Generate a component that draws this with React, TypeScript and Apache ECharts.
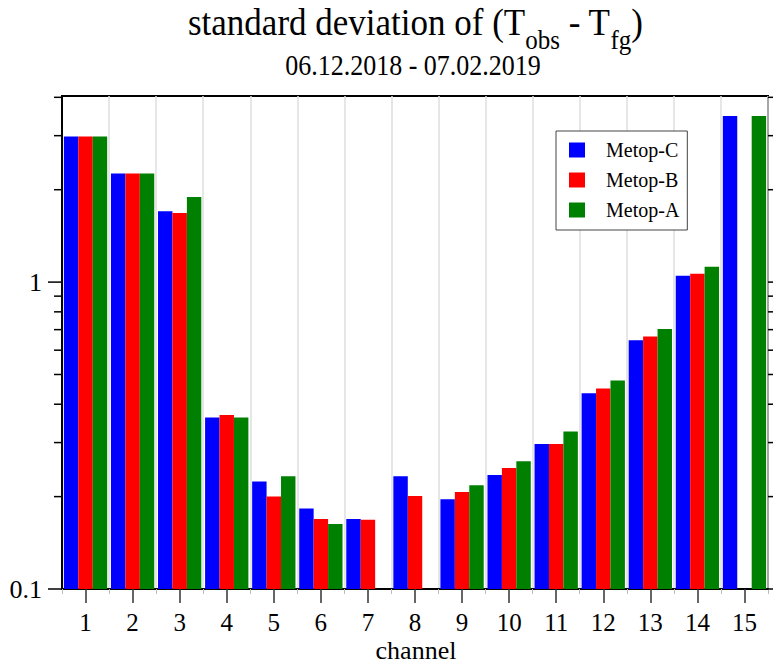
import React, { useEffect, useRef } from "react";
import * as echarts from "echarts";

const categories = ["1", "2", "3", "4", "5", "6", "7", "8", "9", "10", "11", "12", "13", "14", "15"];
const seriesNames = ["Metop-C", "Metop-B", "Metop-A"];
const metopC = [2.98, 2.26, 1.70, 0.362, 0.224, 0.183, 0.169, 0.233, 0.196, 0.235, 0.297, 0.434, 0.646, 1.049, 3.475];
const metopB = [2.98, 2.26, 1.68, 0.369, 0.200, 0.169, 0.168, 0.201, 0.207, 0.248, 0.297, 0.450, 0.665, 1.065, null];
const metopA = [2.98, 2.26, 1.895, 0.362, 0.233, 0.163, null, null, 0.218, 0.261, 0.326, 0.478, 0.704, 1.122, 3.475];
const seriesColors = ["#0000ff", "#ff0000", "#008000"];
const yMin = 0.1;
const yMax = 4.04;
const yMajorTicks = [0.1, 1];
const yMinorTicks = [0.2, 0.3, 0.4, 0.5, 0.6, 0.7, 0.8, 0.9, 2, 3, 4];
const titleMain = "standard deviation of (T";
const titleSub1 = "obs";
const titleMid = " - T";
const titleSub2 = "fg";
const titleEnd = ")";
const subtitle = "06.12.2018 - 07.02.2019";
const xName = "channel";

const FONT = "Liberation Serif, Times New Roman, serif";

function measure(text: string, font: string): number {
  const c = document.createElement("canvas").getContext("2d");
  if (!c) return text.length * 10;
  c.font = font;
  return c.measureText(text).width;
}

export default function App() {
  const ref = useRef<HTMLDivElement>(null);
  useEffect(() => {
    if (!ref.current) return;
    const chart = echarts.init(ref.current, undefined, { renderer: "svg" });

    const F = 35;
    const f = 25;
    const mainFont = `${F}px "Liberation Serif"`;
    const subFont = `${f}px "Liberation Serif"`;
    const pieces = [
      { t: titleMain, sub: false },
      { t: titleSub1, sub: true },
      { t: titleMid, sub: false },
      { t: titleSub2, sub: true },
      { t: titleEnd, sub: false },
    ];
    const widths = pieces.map((p) => measure(p.t, p.sub ? subFont : mainFont));
    const total = widths.reduce((a, b) => a + b, 0);
    let cx = 415.5 - total / 2;
    const mainBase = 35;
    const subBase = 49;
    const stretch = 1.1;
    const titleEls: any[] = pieces.map((p, i) => {
      const size = p.sub ? f : F;
      const base = p.sub ? subBase : mainBase;
      const el = {
        type: "text",
        x: cx,
        y: base - 0.34 * size,
        scaleY: stretch,
        originY: 0.34 * size,
        style: {
          text: p.t,
          font: `${size}px ${FONT}`,
          fill: "#000",
          textAlign: "left",
          verticalAlign: "middle",
        },
      };
      cx += widths[i];
      return el;
    });
    titleEls.push({
      type: "text",
      x: 413,
      y: 75 - 0.34 * 26,
      scaleY: stretch,
      originY: 0.34 * 26,
      style: {
        text: subtitle,
        font: `26px ${FONT}`,
        fill: "#000",
        textAlign: "center",
        verticalAlign: "middle",
      },
    });
    titleEls.push({
      type: "text",
      x: 416,
      y: 650,
      style: {
        text: xName,
        font: `26px ${FONT}`,
        fill: "#000",
        textAlign: "center",
        verticalAlign: "middle",
      },
    });

    const allTicks = [...yMajorTicks, ...yMinorTicks];
    const barData = [metopC, metopB, metopA];

    const option: any = {
      animation: false,
      backgroundColor: "#fff",
      textStyle: { fontFamily: FONT },
      graphic: titleEls,
      grid: {
        left: 62,
        right: 5,
        top: 96,
        bottom: 74,
        containLabel: false,
        outerBoundsMode: "none",
        show: true,
        borderColor: "#000",
        borderWidth: 2,
        backgroundColor: "transparent",
      },
      legend: {
        data: seriesNames,
        orient: "vertical",
        left: 556,
        top: 131,
        itemWidth: 16,
        itemHeight: 15,
        itemGap: 10,
        icon: "rect",
        padding: [9, 8, 10, 13],
        borderColor: "#444",
        borderWidth: 1,
        backgroundColor: "#fff",
        borderRadius: 0,
        textStyle: { fontSize: 20, fontFamily: FONT, color: "#000", padding: [0, 0, 0, 16] },
      },
      xAxis: [
        {
          type: "category",
          data: categories,
          axisLine: { show: true, lineStyle: { color: "#000", width: 2 } },
          axisTick: { show: true, alignWithLabel: true, length: 14, lineStyle: { color: "#333", width: 1.5 } },
          axisLabel: { fontSize: 25, fontFamily: FONT, color: "#000", margin: 21 },
          splitLine: { show: true, lineStyle: { color: "#dedede", width: 1.5 } },
        },
        {
          type: "category",
          data: categories,
          position: "bottom",
          axisLine: { show: false },
          axisTick: { show: true, length: 5, lineStyle: { color: "#bbb", width: 1 } },
          axisLabel: { show: false },
          splitLine: { show: false },
        },
      ],
      yAxis: {
        type: "log",
        logBase: 10,
        min: yMin,
        max: yMax,
        startValue: yMin,
        axisLine: { show: true, lineStyle: { color: "#000", width: 2 } },
        axisTick: { show: false },
        splitLine: { show: false },
        minorTick: { show: false },
        axisLabel: {
          fontSize: 26,
          fontFamily: FONT,
          color: "#000",
          margin: 20,
          formatter: (v: number) => (Math.abs(v - 0.1) < 1e-9 ? "0.1" : Math.abs(v - 1) < 1e-9 ? "1" : ""),
        },
      },
      series: [
        ...seriesNames.map((name, i) => ({
          name,
          type: "bar",
          xAxisIndex: 0,
          data: barData[i],
          barGap: "0%",
          barCategoryGap: "8%",
          itemStyle: { color: seriesColors[i] },
        })),
        {
          type: "custom",
          coordinateSystem: "cartesian2d",
          xAxisIndex: 0,
          clip: false,
          silent: true,
          z: 10,
          data: allTicks.map((v) => [0, v]),
          encode: { x: 0, y: 1 },
          renderItem: (params: any, api: any) => {
            const v = api.value(1);
            const y = api.coord([0, v])[1];
            const cs = params.coordSys;
            const major = yMajorTicks.indexOf(v) >= 0;
            const len = major ? 14 : 8;
            const st = { stroke: "#000", lineWidth: 1.5 };
            return {
              type: "group",
              children: [
                { type: "line", shape: { x1: cs.x - len, y1: y, x2: cs.x, y2: y }, style: st },
                { type: "line", shape: { x1: cs.x + cs.width, y1: y, x2: cs.x + cs.width + 8, y2: y }, style: st },
              ],
            };
          },
        },
      ],
    };
    chart.setOption(option);
    return () => chart.dispose();
  }, []);
  return (
    <div
      ref={ref}
      style={{ position: "absolute", left: 0, top: 0, width: 773, height: 663, background: "#fff" }}
    />
  );
}
